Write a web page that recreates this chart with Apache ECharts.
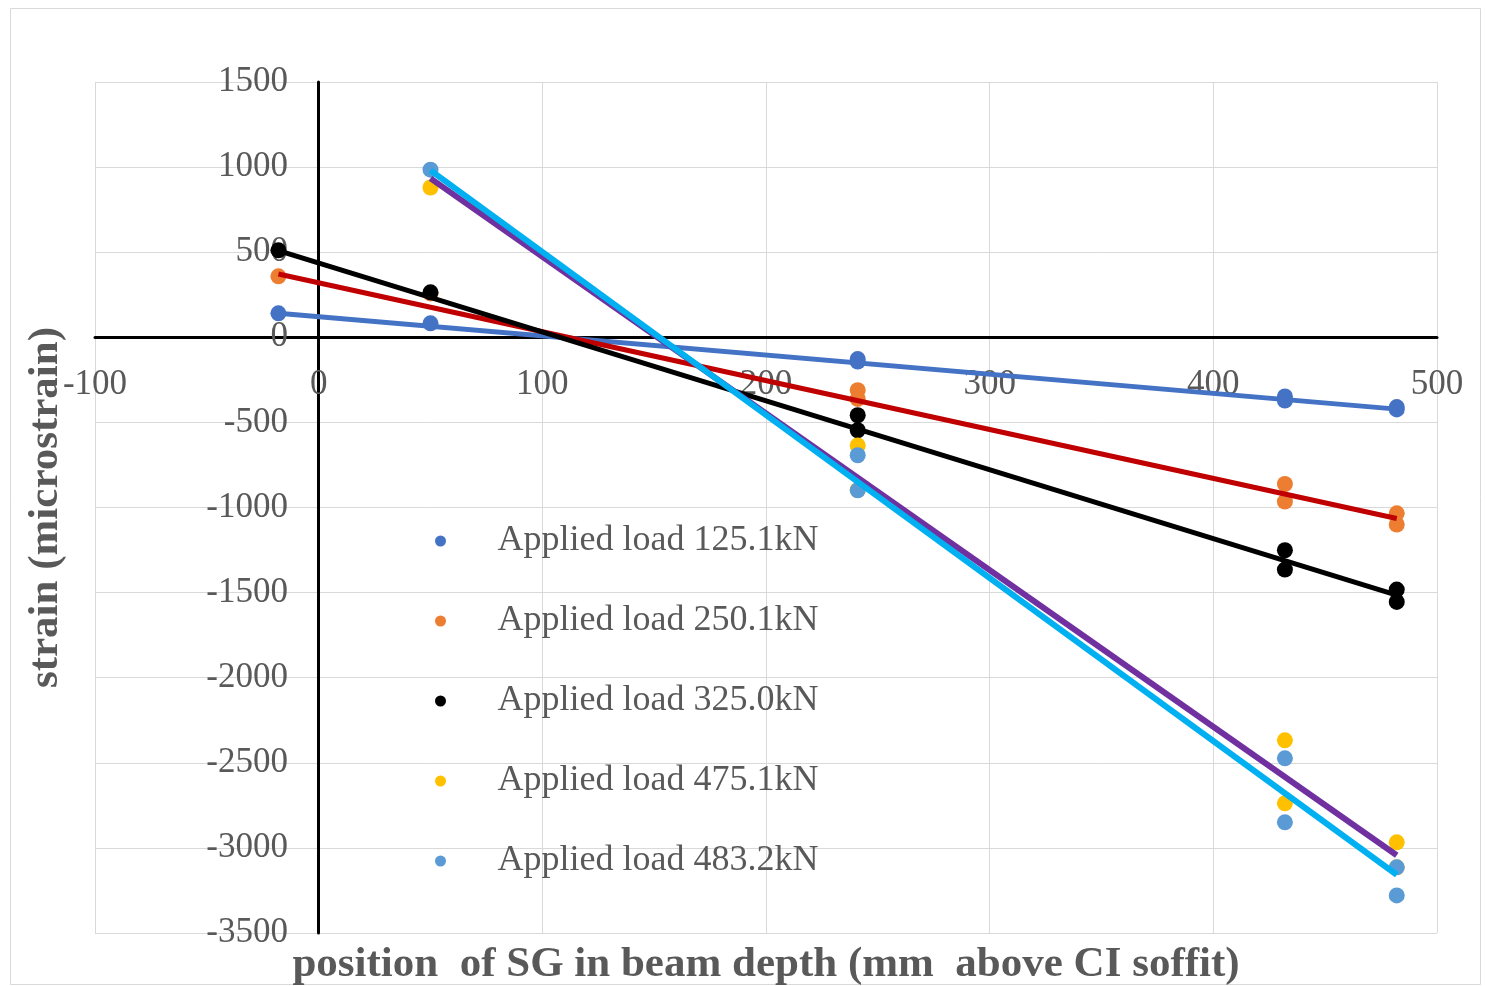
<!DOCTYPE html>
<html>
<head>
<meta charset="utf-8">
<script src="https://cdn.jsdelivr.net/npm/echarts@6/dist/echarts.min.js"></script>
<style>
html,body{margin:0;padding:0;background:#fff;}
#chart{width:1485px;height:986px;}
</style>
</head>
<body>
<div id="chart"></div>
<script>
// Series names
const seriesNames = ['Applied load 125.1kN','Applied load 250.1kN','Applied load 325.0kN','Applied load 475.1kN','Applied load 483.2kN'];
// Measured points [position mm, strain]
const load125 = [[-18,141],[50,82],[241,-128],[241,-142],[432,-348],[432,-372],[482,-410],[482,-424]];
const load250 = [[-18,358],[50,258],[241,-311],[241,-362],[432,-862],[432,-965],[482,-1034],[482,-1100]];
const load325 = [[-18,511],[50,264],[241,-458],[241,-546],[432,-1251],[432,-1365],[482,-1482],[482,-1555]];
const load475 = [[50,880],[241,-635],[241,-897],[432,-2368],[432,-2738],[482,-2967],[482,-3114]];
const load483 = [[50,985],[241,-693],[241,-899],[432,-2474],[432,-2850],[482,-3114],[482,-3279]];
// Linear trendline endpoints
const trend125 = [[-18,141],[482,-422]];
const trend250 = [[-18,372],[482,-1065]];
const trend325 = [[-18,509],[482,-1515]];
const trend475 = [[50,934],[482,-3043]];
const trend483 = [[50,981],[482,-3158]];
// Axis ticks
const xTicks = {min:-100,max:500,interval:100};
const yTicks = {min:-3500,max:1500,interval:500};

const markerColors = ['#4472C4','#ED7D31','#000000','#FFC000','#5B9BD5'];
const trendColors = ['#4472C4','#C00000','#000000','#7030A0','#00B0F0'];
const pointSets = [load125,load250,load325,load475,load483];
const trendSets = [trend125,trend250,trend325,trend475,trend483];
const trendWidths = [5,5,5,6,6];

const serif = '"Liberation Serif","Times New Roman",serif';
const series = [];
pointSets.forEach((d,i)=>{
  series.push({name:seriesNames[i],type:'scatter',data:d,symbol:'circle',symbolSize:16,
    itemStyle:{color:markerColors[i],opacity:1},z:2});
});
trendSets.forEach((d,i)=>{
  series.push({name:'trend'+i,type:'line',data:d,showSymbol:false,symbol:'none',
    lineStyle:{color:trendColors[i],width:trendWidths[i]},z:3+i,silent:true});
});

const chart = echarts.init(document.getElementById('chart'),null,{renderer:'canvas'});
chart.setOption({
  backgroundColor:'#ffffff',
  animation:false,
  graphic:[{type:'rect',shape:{x:10.5,y:8.5,width:1470,height:976},style:{fill:'none',stroke:'#d9d9d9',lineWidth:1},z:-1}],
  grid:{left:95,right:48,top:82,bottom:53,containLabel:false,outerBoundsMode:'none'},
  legend:{
    data:seriesNames,orient:'vertical',left:430,top:516,
    itemWidth:104,itemHeight:11,itemGap:40,icon:'circle',
    textStyle:{fontFamily:serif,fontSize:36,color:'#595959',lineHeight:40}
  },
  xAxis:{type:'value',min:xTicks.min,max:xTicks.max,interval:xTicks.interval,
    axisLine:{onZero:true,lineStyle:{color:'#000',width:3}},
    axisTick:{show:false},
    axisLabel:{fontFamily:serif,fontSize:35,color:'#595959',margin:-566,showMinLabel:true,showMaxLabel:true,hideOverlap:false,
      formatter:v=>String(v)},
    splitLine:{show:true,lineStyle:{color:'#d9d9d9',width:1}},
    name:'position  of SG in beam depth (mm  above CI soffit)',nameLocation:'middle',nameGap:10,
    nameTextStyle:{fontFamily:serif,fontSize:43,fontWeight:'bold',color:'#595959'}
  },
  yAxis:{type:'value',min:yTicks.min,max:yTicks.max,interval:yTicks.interval,
    axisLine:{onZero:true,lineStyle:{color:'#000',width:3}},
    axisTick:{show:false},
    axisLabel:{fontFamily:serif,fontSize:35,color:'#595959',margin:-193,showMinLabel:true,showMaxLabel:true,hideOverlap:false,
      formatter:v=>String(v)},
    splitLine:{show:true,lineStyle:{color:'#d9d9d9',width:1}},
    name:'strain (microstrain)',nameLocation:'middle',nameGap:28,nameRotate:90,
    nameTextStyle:{fontFamily:serif,fontSize:43,fontWeight:'bold',color:'#595959'}
  },
  series:series
});
</script>
</body>
</html>
